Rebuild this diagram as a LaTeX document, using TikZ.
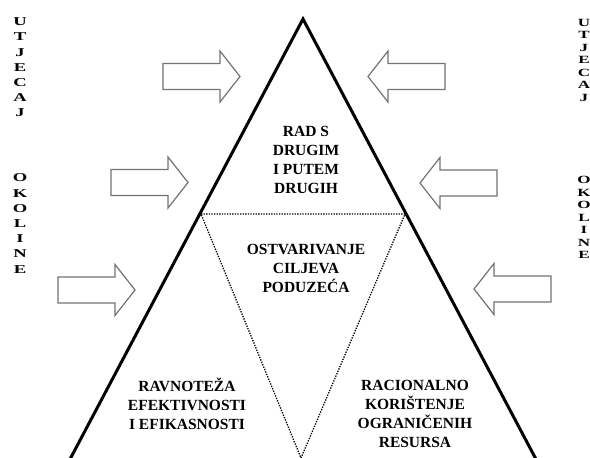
\documentclass[tikz,border=0pt]{standalone}
\usepackage{fontspec}
\setmainfont{Liberation Serif}
\newcommand\wideletter[1]{\scalebox{1.55}[1]{#1}}
\begin{document}
\begin{tikzpicture}[x=1pt,y=-1pt,
  side/.style={line width=3pt, line join=miter, black},
  dots/.style={line width=1.3pt, dash pattern=on 1.3pt off 1.3pt, black},
  lbl/.style={font=\bfseries\fontsize{15.5}{19}\selectfont, align=center, inner sep=0pt},
  vleft/.style={font=\bfseries\fontsize{12}{15.2}\selectfont, align=center, inner sep=0pt},
  vright/.style={font=\bfseries\fontsize{11}{12.5}\selectfont, align=center, inner sep=0pt},
  arrowline/.style={draw=black!55, line width=1.2pt, fill=white, line join=miter},
  barrow/.pic={\draw[arrowline] (0,-13) -- (57,-13) -- (57,-25.5) -- (77,0) -- (57,25.5) -- (57,13) -- (0,13) -- cycle;}
]
\useasboundingbox (0,0) rectangle (590,458);
\fill[white] (0,0) rectangle (590,458);

% main triangle
\coordinate (apex) at (303,19);
\coordinate (bl) at (68,463);
\coordinate (br) at (538,463);
\draw[side] (bl) -- (apex) -- (br);

% dotted inner triangle
\coordinate (dl) at (201,214);
\coordinate (dr) at (405,214);
\coordinate (dv) at (301,458);
\draw[dots] (dl) -- (dr) -- (dv) -- cycle;

% labels
\node[lbl] (top) at (306,160) {RAD S\\DRUGIM\\I PUTEM\\DRUGIH};
\node[lbl] (mid) at (306,268.5) {OSTVARIVANJE\\CILJEVA\\PODUZEĆA};
\node[lbl] (lft) at (187,404) {RAVNOTEŽA\\EFEKTIVNOSTI\\I EFIKASNOSTI};
\node[lbl] (rgt) at (415,413.5) {RACIONALNO\\KORIŠTENJE\\OGRANIČENIH\\RESURSA};

% side vertical texts
\node[vleft] (lu) at (20,67.5) {\wideletter{U}\\\wideletter{T}\\\wideletter{J}\\\wideletter{E}\\\wideletter{C}\\\wideletter{A}\\\wideletter{J}};
\node[vleft] (lo) at (20,223.5) {\wideletter{O}\\\wideletter{K}\\\wideletter{O}\\\wideletter{L}\\\wideletter{I}\\\wideletter{N}\\\wideletter{E}};
\node[vright] (ru) at (584,60) {\wideletter{U}\\\wideletter{T}\\\wideletter{J}\\\wideletter{E}\\\wideletter{C}\\\wideletter{A}\\\wideletter{J}};
\node[vright] (ro) at (584,217.5) {\wideletter{O}\\\wideletter{K}\\\wideletter{O}\\\wideletter{L}\\\wideletter{I}\\\wideletter{N}\\\wideletter{E}};

% block arrows
\pic at (163,76.5) {barrow};
\pic at (111,182.5) {barrow};
\pic at (58,290) {barrow};
\pic[rotate=180] at (445,76.5) {barrow};
\pic[rotate=180] at (497,183) {barrow};
\pic[rotate=180] at (551,289) {barrow};
\end{tikzpicture}
\end{document}
